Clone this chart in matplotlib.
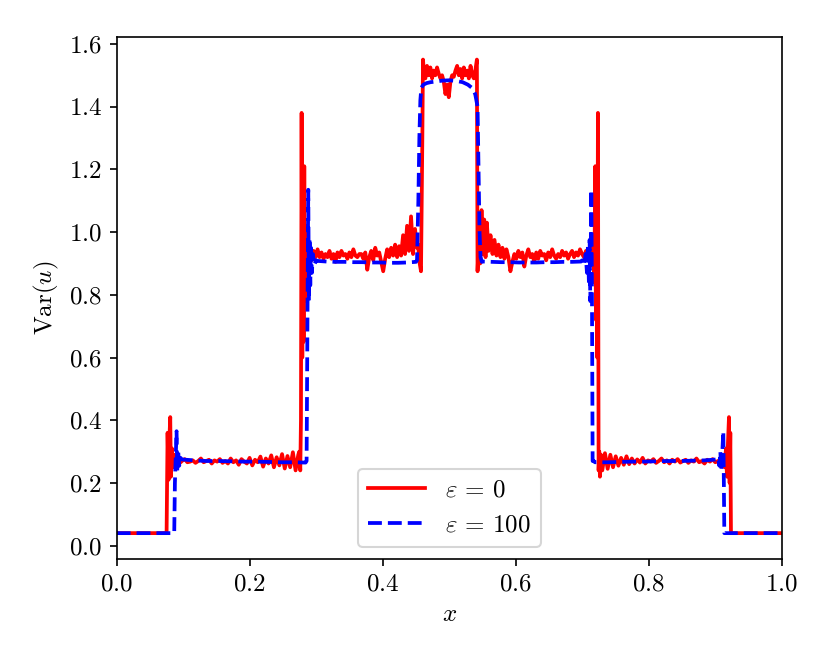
import numpy as np
import matplotlib
matplotlib.use('Agg')
import matplotlib.pyplot as plt

plt.rcParams['font.family'] = 'serif'
plt.rcParams['font.serif'] = ['cmr10']
plt.rcParams['mathtext.fontset'] = 'cm'
plt.rcParams['axes.formatter.use_mathtext'] = True
plt.rcParams['font.size'] = 12

# ---- eps = 0 (red) ----
red_x_shock1 = [0.0, 0.075, 0.0765, 0.078, 0.079, 0.0805, 0.0815, 0.083, 0.0845, 0.086, 0.088]
red_y_shock1 = [0.040, 0.040, 0.36, 0.21, 0.33, 0.41, 0.22, 0.31, 0.25, 0.29, 0.26]

red_plateau1 = [0.272, 0.262, 0.270, 0.276, 0.266, 0.268, 0.272, 0.264, 0.270, 0.278,
                0.266, 0.270, 0.274, 0.262, 0.272, 0.268, 0.276, 0.264, 0.270, 0.262,
                0.278, 0.266, 0.272, 0.258, 0.276, 0.268, 0.262, 0.280, 0.256, 0.274,
                0.266, 0.284, 0.252, 0.278, 0.262, 0.288, 0.250, 0.282, 0.256, 0.292,
                0.246, 0.286, 0.250, 0.298, 0.240, 0.290]

red_x_shock2 = [0.2745, 0.2760, 0.2770, 0.2780, 0.2790, 0.2800, 0.2810, 0.2820, 0.2830,
                0.2840, 0.2855, 0.2870, 0.2885]
red_y_shock2 = [0.30, 0.24, 0.40, 1.38, 0.60, 1.10, 0.65, 1.21, 0.78, 1.02, 0.84, 0.97, 0.89]

red_plateau2 = [0.93, 0.91, 0.94, 0.92, 0.945, 0.92, 0.935, 0.915, 0.93, 0.92,
                0.94, 0.915, 0.93, 0.905, 0.935, 0.92, 0.94, 0.925, 0.93, 0.915,
                0.935, 0.92, 0.945, 0.925, 0.92, 0.93, 0.93, 0.915, 0.935, 0.88,
                0.92, 0.94, 0.91, 0.95, 0.925, 0.935, 0.905, 0.875, 0.915, 0.945,
                0.92, 0.95, 0.925, 0.96, 0.92, 0.955, 0.925, 0.99, 0.93, 1.02,
                0.94, 1.05, 0.93, 1.01, 0.95]

red_x_shock3 = [0.453, 0.4555, 0.4575, 0.4595, 0.4605]
red_y_shock3 = [0.96, 0.90, 0.875, 1.30, 1.55]

red_center = [1.52, 1.49, 1.53, 1.50, 1.525, 1.49, 1.515, 1.50, 1.525, 1.505,
              1.49, 1.50, 1.48, 1.44, 1.47, 1.43, 1.48, 1.50, 1.495, 1.515,
              1.53, 1.50, 1.52, 1.49, 1.525, 1.50, 1.515, 1.49, 1.53, 1.50,
              1.49, 1.52]

red_x_shock4 = [0.5415, 0.5425, 0.5445, 0.5465, 0.5485, 0.5505, 0.5525, 0.5545, 0.5565]
red_y_shock4 = [1.55, 0.875, 0.98, 0.90, 1.07, 0.93, 1.04, 0.92, 1.03]

red_plateau3 = [0.94, 0.99, 0.93, 0.975, 0.925, 0.96, 0.92, 0.95, 0.915, 0.945,
                0.92, 0.875, 0.905, 0.93, 0.915, 0.94, 0.92, 0.935, 0.89, 0.925,
                0.945, 0.92, 0.93, 0.905, 0.935, 0.915, 0.94, 0.925, 0.93, 0.91,
                0.935, 0.92, 0.945, 0.925, 0.915, 0.93, 0.92, 0.94, 0.925, 0.935,
                0.915, 0.93, 0.94, 0.92, 0.935, 0.925, 0.945, 0.93, 0.92, 0.94,
                0.925, 0.935]

red_x_shock5 = [0.7130, 0.7150, 0.7165, 0.7180, 0.7195, 0.7205, 0.7215, 0.7225,
                0.7235, 0.7245, 0.7255, 0.7265, 0.7280]
red_y_shock5 = [0.93, 0.90, 0.98, 0.84, 1.21, 0.72, 1.05, 0.60, 1.38, 0.24, 0.30, 0.22, 0.29]

red_plateau4 = [0.24, 0.295, 0.245, 0.29, 0.25, 0.285, 0.255, 0.28, 0.258, 0.285,
                0.26, 0.278, 0.262, 0.275, 0.265, 0.28, 0.262, 0.272, 0.268, 0.276,
                0.264, 0.27, 0.278, 0.266, 0.272, 0.262, 0.274, 0.268, 0.276, 0.265,
                0.27, 0.274, 0.264, 0.272, 0.268, 0.278, 0.266, 0.27, 0.262, 0.274,
                0.268, 0.276, 0.266, 0.27, 0.272]

red_x_shock6 = [0.910, 0.912, 0.914, 0.916, 0.9175, 0.919, 0.9205, 0.9215, 0.9225, 0.9235, 0.925, 1.0]
red_y_shock6 = [0.265, 0.29, 0.25, 0.31, 0.22, 0.33, 0.41, 0.20, 0.36, 0.04, 0.040, 0.040]

# ---- eps = 100 (blue) ----
blue_x_shock1 = [0.0, 0.0865, 0.0875, 0.0890, 0.0900, 0.0910, 0.0925, 0.094, 0.096]
blue_y_shock1 = [0.040, 0.040, 0.20, 0.30, 0.365, 0.24, 0.30, 0.255, 0.28]
blue_plateau1 = [0.275, 0.272, 0.270, 0.270, 0.269, 0.268, 0.268, 0.267, 0.266, 0.266, 0.265]
blue_x_shock2 = [0.2855, 0.2870, 0.2880, 0.2890, 0.2900, 0.2910, 0.2920, 0.2935, 0.295, 0.297, 0.300]
blue_y_shock2 = [0.27, 0.80, 1.135, 0.78, 0.98, 0.83, 0.95, 0.87, 0.93, 0.895, 0.91]
blue_plateau2 = [0.908, 0.906, 0.905, 0.905, 0.904, 0.904, 0.903, 0.903, 0.902, 0.902, 0.903, 0.905]
blue_x_center = [0.4515, 0.4535, 0.455, 0.4565, 0.458, 0.461, 0.466, 0.472, 0.480, 0.490, 0.500,
                 0.510, 0.520, 0.528, 0.534, 0.539, 0.5425, 0.544, 0.5455, 0.547, 0.549]
blue_y_center = [0.91, 1.10, 1.30, 1.42, 1.46, 1.47, 1.475, 1.478, 1.48, 1.483, 1.484,
                 1.482, 1.478, 1.47, 1.46, 1.44, 1.40, 1.20, 1.00, 0.92, 0.905]
blue_plateau3 = [0.906, 0.905, 0.904, 0.904, 0.903, 0.903, 0.903, 0.904, 0.904, 0.905, 0.905, 0.906]
blue_x_shock3 = [0.700, 0.703, 0.705, 0.707, 0.7085, 0.710, 0.711, 0.712, 0.7135, 0.7145, 0.7155, 0.717]
blue_y_shock3 = [0.91, 0.895, 0.93, 0.87, 0.96, 0.83, 0.975, 0.78, 1.135, 0.80, 0.27, 0.27]
blue_plateau4 = [0.266, 0.266, 0.267, 0.268, 0.268, 0.269, 0.270, 0.270, 0.271, 0.272, 0.275]
blue_x_shock4 = [0.904, 0.906, 0.9075, 0.909, 0.9105, 0.912, 0.9128, 0.9135, 1.0]
blue_y_shock4 = [0.28, 0.255, 0.30, 0.24, 0.30, 0.365, 0.20, 0.040, 0.040]


def grid(a, b, vals):
    return np.linspace(a, b, len(vals))


red_x = np.concatenate([red_x_shock1, grid(0.090, 0.273, red_plateau1), red_x_shock2,
                        grid(0.290, 0.4515, red_plateau2), red_x_shock3,
                        grid(0.4615, 0.5395, red_center), red_x_shock4,
                        grid(0.559, 0.7115, red_plateau3), red_x_shock5,
                        grid(0.730, 0.908, red_plateau4), red_x_shock6])
red_y = np.concatenate([red_y_shock1, red_plateau1, red_y_shock2, red_plateau2, red_y_shock3,
                        red_center, red_y_shock4, red_plateau3, red_y_shock5,
                        red_plateau4, red_y_shock6])

blue_x = np.concatenate([blue_x_shock1, grid(0.098, 0.284, blue_plateau1), blue_x_shock2,
                         grid(0.302, 0.450, blue_plateau2), blue_x_center,
                         grid(0.551, 0.698, blue_plateau3), blue_x_shock3,
                         grid(0.719, 0.902, blue_plateau4), blue_x_shock4])
blue_y = np.concatenate([blue_y_shock1, blue_plateau1, blue_y_shock2, blue_plateau2, blue_y_center,
                         blue_plateau3, blue_y_shock3, blue_plateau4, blue_y_shock4])

fig = plt.figure(figsize=(830 / 150, 664 / 150), dpi=150)
ax = fig.add_axes([0.1406, 0.1577, 0.942 - 0.1406, 0.9438 - 0.1577])

ax.plot(red_x, red_y, '-', color='red', lw=1.8, label=r'$\varepsilon \,=\, 0$')
ax.plot(blue_x, blue_y, '--', color='blue', lw=1.8, label=r'$\varepsilon \,=\, 100$')

ax.set_xlim(0, 1)
ax.set_ylim(-0.0434, 1.621)
ax.set_xticks(np.arange(0, 1.01, 0.2))
ax.set_yticks(np.arange(0, 1.61, 0.2))
ax.set_xlabel(r'$x$')
ax.set_ylabel(r'$\mathrm{Var}(u)$')
ax.legend(loc='lower center', handlelength=2.3)

fig.savefig('out.png', dpi=150)
